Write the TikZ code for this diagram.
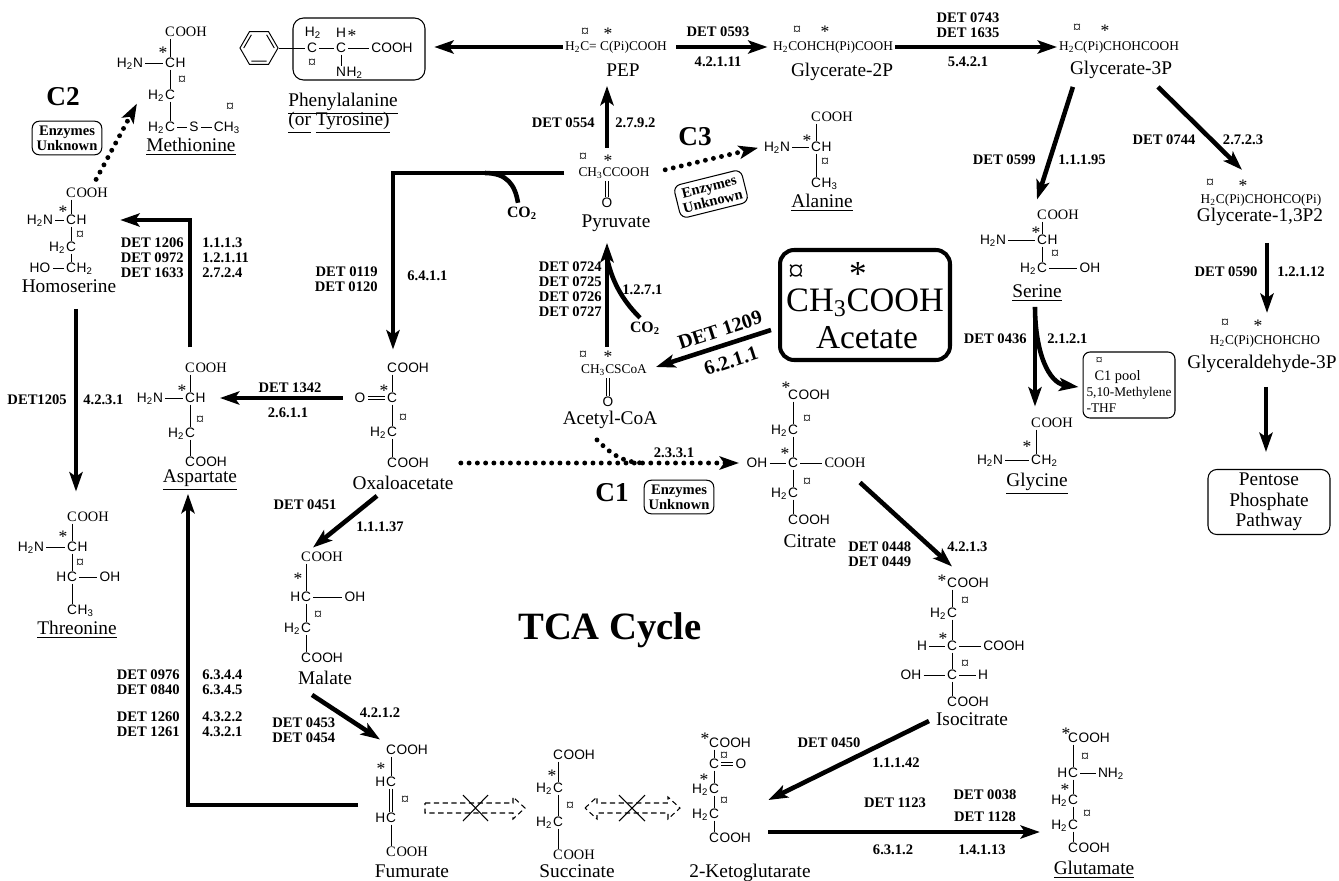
\documentclass[tikz,border=0pt]{standalone}
\usepackage{fontspec}
\setmainfont{Liberation Serif}
\setsansfont{Liberation Sans}
\usetikzlibrary{arrows.meta,positioning,shapes.geometric,calc}

\newcommand{\namefont}{\rmfamily\fontsize{11}{12}\selectfont}
\newcommand{\detfont}{\rmfamily\bfseries\fontsize{8.3}{8.6}\selectfont}
\newcommand{\chemfont}{\sffamily\fontsize{7.8}{9}\selectfont}
\newcommand{\chemrmfont}{\rmfamily\fontsize{8.2}{9}\selectfont}
\newcommand{\linefont}{\rmfamily\fontsize{7.6}{9}\selectfont}
\newcommand{\chsub}[1]{\textsubscript{#1}}

\begin{document}
\begin{tikzpicture}[x=0.02cm, y=-0.02cm,
    atom/.style={font=\chemfont, inner xsep=1.2pt, inner ysep=0.5pt, text height=5.6pt, text depth=0.4pt},
    atomrm/.style={atom, font=\chemrmfont},
    hyd/.style={font=\chemfont, inner sep=0pt, text height=5.6pt, text depth=0.4pt},
    hydrm/.style={hyd, font=\chemrmfont},
    currency/.style={font=\rmfamily\fontsize{9}{9}\selectfont, inner sep=0pt},
    asterisk/.style={font=\rmfamily\fontsize{10}{10}\selectfont, inner sep=0pt, yshift=-2pt},
    molname/.style={font=\namefont, inner sep=1pt, text height=7.6pt, text depth=2.4pt},
    formula/.style={font=\linefont, inner sep=1pt, text height=5.3pt, text depth=1.6pt},
    detlabel/.style={font=\detfont, inner sep=0pt},
    bigc/.style={font=\rmfamily\bfseries\fontsize{15.5}{16}\selectfont},
    enzbox/.style={draw, rounded corners=4pt, align=center, font=\detfont, inner sep=2.5pt, line width=0.6pt},
    big arrow/.style={line width=2.6pt, -{Stealth[length=11pt, width=7.5pt, inset=2.5pt]}},
    dot arrow/.style={line width=2.8pt, line cap=round, dash pattern=on 0pt off 4.7pt, -{Stealth[length=11pt, width=7.5pt, inset=2.5pt]}},
    bond/.style={line width=0.55pt},
    dbl/.style={double, double distance=1.4pt, line width=0.5pt}]
\tikzstyle{every node}=[inner sep=1pt]

\useasboundingbox (0,0) rectangle (1339,880);
\fill[white] (0,0) rectangle (1339,880);

% Methionine
\node[atomrm] (m1) at (170,32) {C};
\node[hydrm, right=-1.2pt of m1] (m1o) {OOH};
\node[asterisk] (m1s) at (163,49) {*};
\node[atom] (m2) at (170,63) {C};
\node[hyd, right=-1.2pt of m2] (m2h) {H};
\node[atom] (m2n) at (130,63) {H\chsub{2}N};
\node[currency] (m2t) at (182,80) {¤};
\node[atom] (m3) at (170,95) {C};
\node[hyd, left=-1.2pt of m3] (m3h) {H\chsub{2}};
\node[atom] (m4) at (170,127) {C};
\node[hyd, left=-1.2pt of m4] (m4h) {H\chsub{2}};
\node[atom] (m4s) at (194,127) {S};
\node[atom] (m4c) at (227,127) {CH\chsub{3}};
\node[currency] (m4t) at (230,107) {¤};
\node[molname] (metn) at (191,147) {\underline{Methionine}};
\draw[bond] (m1) -- (m2) (m2n) -- (m2) -- (m3) -- (m4) -- (m4s) -- (m4c);

% Homoserine
\node[atomrm] (h1) at (71,193) {C};
\node[hydrm, right=-1.2pt of h1] (h1o) {OOH};
\node[asterisk] (h1s) at (63,208) {*};
\node[atom] (h2) at (71,220) {C};
\node[hyd, right=-1.2pt of h2] (h2h) {H};
\node[atom] (h2n) at (40,220) {H\chsub{2}N};
\node[currency] (h2t) at (80,235) {¤};
\node[atom] (h3) at (71,247) {C};
\node[hyd, left=-1.2pt of h3] (h3h) {H\chsub{2}};
\node[atom] (h4) at (71,268) {C};
\node[hyd, right=-1.2pt of h4] (h4h) {H\chsub{2}};
\node[atom] (h4o) at (40,268) {HO};
\node[molname] (homn) at (69,288) {Homoserine};
\draw[bond] (h1) -- (h2) (h2n) -- (h2) -- (h3) -- (h4) -- (h4o);

% Threonine
\node[atomrm] (th1) at (72,517) {C};
\node[hydrm, right=-1.2pt of th1] (th1o) {OOH};
\node[asterisk] (th1s) at (63,533) {*};
\node[atom] (th2) at (72,547) {C};
\node[hyd, right=-1.2pt of th2] (th2h) {H};
\node[atom] (th2n) at (31,547) {H\chsub{2}N};
\node[currency] (th2t) at (80,563) {¤};
\node[atom] (th3) at (72,577) {C};
\node[hyd, left=-1.2pt of th3] (th3h) {H};
\node[atom] (th3o) at (110,577) {OH};
\node[atom] (th4) at (72,610) {C};
\node[hyd, right=-1.2pt of th4] (th4h) {H\chsub{3}};
\node[molname] (thrn) at (77,630) {\underline{Threonine}};
\draw[bond] (th1) -- (th2) (th2n) -- (th2) -- (th3) -- (th4) (th3) -- (th3o);

% Aspartate
\node[atomrm] (as1) at (190,368) {C};
\node[hydrm, right=-1.2pt of as1] (as1o) {OOH};
\node[asterisk] (as1s) at (182,387) {*};
\node[atom] (as2) at (190,398) {C};
\node[hyd, right=-1.2pt of as2] (as2h) {H};
\node[atom] (as2n) at (150,398) {H\chsub{2}N};
\node[currency] (as2t) at (200,420) {¤};
\node[atom] (as3) at (190,433) {C};
\node[hyd, left=-1.2pt of as3] (as3h) {H\chsub{2}};
\node[atom] (as4) at (190,462) {C};
\node[hyd, right=-1.2pt of as4] (as4o) {OOH};
\node[molname] (aspn) at (200,478) {\underline{Aspartate}};
\draw[bond] (as1) -- (as2) (as2n) -- (as2) -- (as3) -- (as4);

% Oxaloacetate
\node[atom] (ox1) at (392,368) {C};
\node[hyd, right=-1.2pt of ox1] (ox1o) {OOH};
\node[asterisk] (ox1s) at (384,387) {*};
\node[atom] (ox2) at (392,398) {C};
\node[atom] (ox2o) at (360,398) {O};
\node[currency] (ox2t) at (403,418) {¤};
\node[atom] (ox3) at (392,432) {C};
\node[hyd, left=-1.2pt of ox3] (ox3h) {H\chsub{2}};
\node[atom] (ox4) at (392,463) {C};
\node[hyd, right=-1.2pt of ox4] (ox4o) {OOH};
\node[molname] (oxn) at (403,485) {Oxaloacetate};
\draw[bond] (ox1) -- (ox2) -- (ox3) -- (ox4);
\draw[dbl] (ox2o) -- (ox2);

% Malate
\node[atomrm] (ma1) at (306,557) {C};
\node[hydrm, right=-1.2pt of ma1] (ma1o) {OOH};
\node[asterisk] (ma1s) at (298,575) {*};
\node[atom] (ma2) at (306,597) {C};
\node[hyd, left=-1.2pt of ma2] (ma2h) {H};
\node[atom] (ma2o) at (355,597) {OH};
\node[currency] (ma2t) at (318,615) {¤};
\node[atom] (ma3) at (306,628) {C};
\node[hyd, left=-1.2pt of ma3] (ma3h) {H\chsub{2}};
\node[atom] (ma4) at (306,658) {C};
\node[hyd, right=-1.2pt of ma4] (ma4o) {OOH};
\node[molname] (maln) at (325,680) {Malate};
\draw[bond] (ma1) -- (ma2) -- (ma3) -- (ma4) (ma2) -- (ma2o);

% Fumurate
\node[atom] (fu1) at (391,750) {C};
\node[hyd, right=-1.2pt of fu1] (fu1o) {OOH};
\node[asterisk] (fu1s) at (381,765) {*};
\node[atom] (fu2) at (391,782) {C};
\node[hyd, left=-1.2pt of fu2] (fu2h) {H};
\node[currency] (fu2t) at (405,800) {¤};
\node[atom] (fu3) at (391,818) {C};
\node[hyd, left=-1.2pt of fu3] (fu3h) {H};
\node[atomrm] (fu4) at (391,852) {C};
\node[hydrm, right=-1.2pt of fu4] (fu4o) {OOH};
\node[molname] (fumn) at (412,873) {Fumurate};
\draw[bond] (fu1) -- (fu2) (fu3) -- (fu4);
\draw[dbl] (fu2) -- (fu3);

% Succinate
\node[atom] (su1) at (558,755) {C};
\node[hyd, right=-1.2pt of su1] (su1o) {OOH};
\node[asterisk] (su1s) at (552,772) {*};
\node[atom] (su2) at (558,788) {C};
\node[hyd, left=-1.2pt of su2] (su2h) {H\chsub{2}};
\node[currency] (su2t) at (570,806) {¤};
\node[atom] (su3) at (558,822) {C};
\node[hyd, left=-1.2pt of su3] (su3h) {H\chsub{2}};
\node[atomrm] (su4) at (558,855) {C};
\node[hydrm, right=-1.2pt of su4] (su4o) {OOH};
\node[molname] (sucn) at (577,873) {Succinate};
\draw[bond] (su1) -- (su2) -- (su3) -- (su4);

% 2-Ketoglutarate
\node[atom] (kg1) at (714,743) {C};
\node[hyd, right=-1.2pt of kg1] (kg1o) {OOH};
\node[asterisk] (kg1s) at (705,735) {*};
\node[currency] (kg1t) at (724,756) {¤};
\node[atom] (kg2) at (714,764) {C};
\node[atom] (kg2o) at (741,764) {O};
\node[asterisk] (kg2s) at (704,776) {*};
\node[atom] (kg3) at (714,789) {C};
\node[hyd, left=-1.2pt of kg3] (kg3h) {H\chsub{2}};
\node[currency] (kg3t) at (724,801) {¤};
\node[atom] (kg4) at (714,814) {C};
\node[hyd, left=-1.2pt of kg4] (kg4h) {H\chsub{2}};
\node[atom] (kg5) at (714,838) {C};
\node[hyd, right=-1.2pt of kg5] (kg5o) {OOH};
\node[molname] (kgn) at (750,873) {2-Ketoglutarate};
\draw[bond] (kg1) -- (kg2) -- (kg3) -- (kg4) -- (kg5);
\draw[dbl] (kg2) -- (kg2o);

% Glutamate
\node[atom] (gu1) at (1073,738) {C};
\node[hyd, right=-1.2pt of gu1] (gu1o) {OOH};
\node[asterisk] (gu1s) at (1066,730) {*};
\node[currency] (gu1t) at (1085,757) {¤};
\node[atom] (gu2) at (1073,773) {C};
\node[hyd, left=-1.2pt of gu2] (gu2h) {H};
\node[atom] (gu2n) at (1111,773) {NH\chsub{2}};
\node[asterisk] (gu2s) at (1065,786) {*};
\node[atom] (gu3) at (1073,800) {C};
\node[hyd, left=-1.2pt of gu3] (gu3h) {H\chsub{2}};
\node[currency] (gu3t) at (1087,814) {¤};
\node[atom] (gu4) at (1073,825) {C};
\node[hyd, left=-1.2pt of gu4] (gu4h) {H\chsub{2}};
\node[atom] (gu5) at (1073,848) {C};
\node[hyd, right=-1.2pt of gu5] (gu5o) {OOH};
\node[molname] (glun) at (1094,870) {\underline{Glutamate}};
\draw[bond] (gu1) -- (gu2) -- (gu3) -- (gu4) -- (gu5) (gu2) -- (gu2n);

% Citrate
\node[atom] (ci1) at (793,395) {C};
\node[hyd, right=-1.2pt of ci1] (ci1o) {OOH};
\node[asterisk] (ci1s) at (786,384) {*};
\node[currency] (ci1t) at (807,419) {¤};
\node[atom] (ci2) at (793,430) {C};
\node[hyd, left=-1.2pt of ci2] (ci2h) {H\chsub{2}};
\node[asterisk] (ci2s) at (785,450) {*};
\node[atom] (ci3) at (793,463) {C};
\node[atom] (ci3o) at (757,463) {OH};
\node[atomrm] (ci3c) at (845,463) {COOH};
\node[currency] (ci3t) at (807,482) {¤};
\node[atom] (ci4) at (793,493) {C};
\node[hyd, left=-1.2pt of ci4] (ci4h) {H\chsub{2}};
\node[atom] (ci5) at (793,520) {C};
\node[hyd, right=-1.2pt of ci5] (ci5o) {OOH};
\node[molname] (citn) at (810,543) {Citrate};
\draw[bond] (ci1) -- (ci2) -- (ci3) -- (ci4) -- (ci5) (ci3o) -- (ci3) -- (ci3c);

% Isocitrate
\node[atom] (is1) at (952,583) {C};
\node[hyd, right=-1.2pt of is1] (is1o) {OOH};
\node[asterisk] (is1s) at (942,577) {*};
\node[currency] (is1t) at (965,601) {¤};
\node[atom] (is2) at (952,613) {C};
\node[hyd, left=-1.2pt of is2] (is2h) {H\chsub{2}};
\node[asterisk] (is2s) at (943,635) {*};
\node[atom] (is3) at (952,646) {C};
\node[atom] (is3h) at (922,646) {H};
\node[atom] (is3c) at (1004,646) {COOH};
\node[currency] (is3t) at (965,664) {¤};
\node[atom] (is4) at (952,675) {C};
\node[atom] (is4o) at (911,675) {OH};
\node[atom] (is4h) at (983,675) {H};
\node[atom] (is5) at (952,702) {C};
\node[hyd, right=-1.2pt of is5] (is5o) {OOH};
\node[molname] (isn) at (972,721) {Isocitrate};
\draw[bond] (is1) -- (is2) -- (is3) -- (is4) -- (is5) (is3h) -- (is3) -- (is3c) (is4o) -- (is4) -- (is4h);

% Serine
\node[atomrm] (se1) at (1042,215) {C};
\node[hydrm, right=-1.2pt of se1] (se1o) {OOH};
\node[asterisk] (se1s) at (1036,229) {*};
\node[atom] (se2) at (1042,240) {C};
\node[hyd, right=-1.2pt of se2] (se2h) {H};
\node[atom] (se2n) at (993,240) {H\chsub{2}N};
\node[currency] (se2t) at (1055,254) {¤};
\node[atom] (se3) at (1042,268) {C};
\node[hyd, left=-1.2pt of se3] (se3h) {H\chsub{2}};
\node[atom] (se3o) at (1090,268) {OH};
\node[molname] (sern) at (1037,293) {\underline{Serine}};
\draw[bond] (se1) -- (se2) (se2n) -- (se2) -- (se3) -- (se3o);

% Glycine
\node[atomrm] (gl1) at (1036,423) {C};
\node[hydrm, right=-1.2pt of gl1] (gl1o) {OOH};
\node[asterisk] (gl1s) at (1027,443) {*};
\node[atom] (gl2) at (1036,460) {C};
\node[hyd, right=-1.2pt of gl2] (gl2h) {H\chsub{2}};
\node[atom] (gl2n) at (990,460) {H\chsub{2}N};
\node[molname] (glyn) at (1037,482) {\underline{Glycine}};
\draw[bond] (gl1) -- (gl2) -- (gl2n);

% Alanine
\node[atomrm] (al1) at (816,117) {C};
\node[hydrm, right=-1.2pt of al1] (al1o) {OOH};
\node[asterisk] (al1s) at (807,137) {*};
\node[atom] (al2) at (816,147) {C};
\node[hyd, right=-1.2pt of al2] (al2h) {H};
\node[atom] (al2n) at (777,147) {H\chsub{2}N};
\node[currency] (al2t) at (825,162) {¤};
\node[atom] (al3) at (816,183) {C};
\node[hyd, right=-1.2pt of al3] (al3h) {H\chsub{3}};
\node[molname] (alan) at (822,203) {\underline{Alanine}};
\draw[bond] (al1) -- (al2) -- (al3) (al2n) -- (al2);

% Phenylalanine
\node[regular polygon, regular polygon sides=6, draw, line width=0.55pt, minimum size=0.76cm, inner sep=0pt] (ring) at (259,48) {};
\draw[bond] ($(ring.center)!0.78!(ring.corner 6)$) -- ($(ring.center)!0.78!(ring.corner 1)$)
            ($(ring.center)!0.78!(ring.corner 2)$) -- ($(ring.center)!0.78!(ring.corner 3)$)
            ($(ring.center)!0.78!(ring.corner 4)$) -- ($(ring.center)!0.78!(ring.corner 5)$);
\node[atom] (p1) at (312,48) {C};
\node[hyd] (p1h) at (313,32) {H\chsub{2}};
\node[currency] (p1t) at (312,63) {¤};
\node[atom] (p2) at (341,48) {C};
\node[hyd] (p2h) at (341,33) {H};
\node[asterisk] (p2s) at (352,32) {*};
\node[atom] (p2c) at (392,48) {COOH};
\node[atom] (p2n) at (341,72) {N};
\node[hyd, right=-1.2pt of p2n] (p2nh) {H\chsub{2}};
\draw[bond] (ring.east) -- (p1) -- (p2) -- (p2c) (p2) -- (p2n);
\node[draw, rounded corners=6pt, line width=0.6pt, minimum width=2.64cm, minimum height=1.24cm] (phebox) at (359,49) {};
\node[molname] (phen) at (343,102) {\underline{Phenylalanine}};
\node[molname] (tyrn) at (339,121) {\underline{(or} \underline{Tyrosine)}};

% glycolysis line
\node[formula] (pepf) at (616,47) {H\chsub{2}C= C(Pi)COOH};
\node[currency] (pept) at (585,32) {¤};
\node[asterisk] (peps) at (608,30) {*};
\node[molname] (pepn) at (623,72) {PEP};
\node[formula] (g2f) at (833,47) {H\chsub{2}COHCH(Pi)COOH};
\node[currency] (g2t) at (797,30) {¤};
\node[asterisk] (g2s) at (825,28) {*};
\node[molname] (g2n) at (842,72) {Glycerate-2P};
\node[formula] (g3f) at (1119,47) {H\chsub{2}C(Pi)CHOHCOOH};
\node[currency] (g3t) at (1077,28) {¤};
\node[asterisk] (g3s) at (1105,27) {*};
\node[molname] (g3n) at (1121,70) {Glycerate-3P};
\node[formula] (g13f) at (1261,200) {H\chsub{2}C(Pi)CHOHCO(Pi)};
\node[currency] (g13t) at (1210,183) {¤};
\node[asterisk] (g13s) at (1243,182) {*};
\node[molname] (g13n) at (1260,217) {Glycerate-1,3P2};
\node[formula] (gapf) at (1265,341) {H\chsub{2}C(Pi)CHOHCHO};
\node[currency] (gapt) at (1225,323) {¤};
\node[asterisk] (gaps) at (1258,322) {*};
\node[molname] (gapn) at (1262,364) {Glyceraldehyde-3P};
\node[draw, rounded corners=5pt, line width=0.6pt, align=center, font=\rmfamily\fontsize{11}{11.6}\selectfont, minimum width=2.44cm, minimum height=1.3cm] (ppp) at (1269,502) {Pentose\\Phosphate\\Pathway};

% pyruvate and acetyl-CoA
\node[formula] (pyf) at (614,173) {CH\chsub{3}CCOOH};
\node[currency] (pyt) at (583,157) {¤};
\node[asterisk] (pys) at (608,157) {*};
\node[atom] (pyo) at (607,203) {O};
\draw[dbl] (pyo) -- (pyo |- pyf.south);
\node[molname] (pyn) at (616,223) {Pyruvate};
\node[formula] (acf) at (614,370) {CH\chsub{3}CSCoA};
\node[currency] (act) at (583,355) {¤};
\node[asterisk] (acs) at (608,353) {*};
\node[atom] (aco) at (608,402) {O};
\draw[dbl] (aco) -- (aco |- acf.south);
\node[molname] (acn) at (610,420) {Acetyl-CoA};

% acetate
\node[draw, line width=2.3pt, rounded corners=8pt, minimum width=3.4cm, minimum height=2.2cm] (acbox) at (865,305) {};
\node[font=\rmfamily\fontsize{18}{18}\selectfont, inner sep=0pt] (acbt) at (796,273) {¤};
\node[font=\rmfamily\fontsize{20}{20}\selectfont, inner sep=0pt] (acbs) at (858,274) {*};
\node[font=\rmfamily\fontsize{19.5}{20}\selectfont, inner sep=0pt] (acbf) at (865,303) {CH\chsub{3}COOH};
\node[font=\rmfamily\fontsize{19}{20}\selectfont, inner sep=0pt] (acbn) at (867,338) {Acetate};

% C1 pool
\node[draw, rounded corners=4pt, line width=0.6pt, align=left, font=\rmfamily\fontsize{7.6}{9}\selectfont, minimum width=1.82cm, minimum height=1.32cm, inner sep=2pt] (c1box) at (1129,385) {\hspace*{0.7em}¤\\\hspace*{0.6em}{\fontsize{8.2}{9}\selectfont C1 pool}\\5,10-Methylene\\-THF};

% text labels
\node[bigc] (c2l) at (63,97) {C2};
\node[bigc] (c3l) at (695,137) {C3};
\node[bigc] (c1l) at (612,493) {C1};
\node[enzbox] (enz2) at (67,138) {Enzymes\\Unknown};
\node[enzbox, rotate=14] (enz3) at (711,194) {Enzymes\\Unknown};
\node[enzbox] (enz1) at (679,497) {Enzymes\\Unknown};
\node[font=\rmfamily\bfseries\fontsize{22}{22}\selectfont] (tca) at (610,630) {TCA Cycle};
\node[font=\rmfamily\bfseries\fontsize{9}{9}\selectfont] (co2a) at (522,213) {CO\chsub{2}};
\node[font=\rmfamily\bfseries\fontsize{9}{9}\selectfont] (co2b) at (645,328) {CO\chsub{2}};

% enzyme numbers
\node[detlabel, anchor=east] (d0554) at (595,123) {DET 0554};
\node[detlabel, anchor=west] (e2792) at (615,123) {2.7.9.2};
\node[detlabel] (d0593) at (718,32) {DET 0593};
\node[detlabel] (e42111) at (718,62) {4.2.1.11};
\node[detlabel, align=center] (d0743) at (968,25) {DET 0743\\DET 1635};
\node[detlabel] (e5421) at (968,62) {5.4.2.1};
\node[detlabel, anchor=east] (d0599) at (1036,160) {DET 0599};
\node[detlabel, anchor=west] (e11195) at (1058,160) {1.1.1.95};
\node[detlabel] (d0744) at (1164,140) {DET 0744};
\node[detlabel] (e2723) at (1243,140) {2.7.2.3};
\node[detlabel] (d0590) at (1226,272) {DET 0590};
\node[detlabel] (e12112) at (1301,272) {1.2.1.12};
\node[detlabel, anchor=east] (d0436) at (1027,339) {DET 0436};
\node[detlabel, anchor=west] (e2121) at (1047,339) {2.1.2.1};
\node[detlabel, anchor=east, align=right] (d1206) at (184,258) {DET 1206\\DET 0972\\DET 1633};
\node[detlabel, anchor=west, align=left] (e1113) at (202,258) {1.1.1.3\\1.2.1.11\\2.7.2.4};
\node[detlabel, anchor=east, align=right] (d0119) at (378,279) {DET 0119\\DET 0120};
\node[detlabel, anchor=west] (e6411) at (407,276) {6.4.1.1};
\node[detlabel, anchor=east, align=right] (d0724) at (602,289) {DET 0724\\DET 0725\\DET 0726\\DET 0727};
\node[detlabel, anchor=west] (e1271) at (622,290) {1.2.7.1};
\node[detlabel] (d1342) at (290,388) {DET 1342};
\node[detlabel] (e2611) at (288,413) {2.6.1.1};
\node[detlabel, anchor=east] (d1205) at (67,400) {DET1205};
\node[detlabel, anchor=west] (e4231) at (83,400) {4.2.3.1};
\node[detlabel] (d0451) at (305,505) {DET 0451};
\node[detlabel] (e11137) at (380,527) {1.1.1.37};
\node[detlabel, anchor=east, align=right] (d0976) at (180,682) {DET 0976\\DET 0840};
\node[detlabel, anchor=east, align=right] (d1260) at (180,724) {DET 1260\\DET 1261};
\node[detlabel, anchor=west, align=left] (e6344) at (202,682) {6.3.4.4\\6.3.4.5};
\node[detlabel, anchor=west, align=left] (e4322) at (202,724) {4.3.2.2\\4.3.2.1};
\node[detlabel, anchor=west, align=left] (d0453) at (272,730) {DET 0453\\DET 0454};
\node[detlabel] (e4212) at (380,713) {4.2.1.2};
\node[detlabel] (e2331) at (674,453) {2.3.3.1};
\node[detlabel, anchor=west, align=left] (d0448) at (848,554) {DET 0448\\DET 0449};
\node[detlabel, anchor=west] (e4213) at (947,547) {4.2.1.3};
\node[detlabel] (d0450) at (829,743) {DET 0450};
\node[detlabel] (e11142) at (896,763) {1.1.1.42};
\node[detlabel] (d1123) at (895,803) {DET 1123};
\node[detlabel] (e6312) at (893,850) {6.3.1.2};
\node[detlabel] (d0038) at (985,795) {DET 0038};
\node[detlabel] (d1128) at (985,817) {DET 1128};
\node[detlabel] (e14113) at (982,850) {1.4.1.13};
\node[font=\rmfamily\bfseries\fontsize{11.5}{12}\selectfont, rotate=18] (d1209) at (720,330) {DET 1209};
\node[font=\rmfamily\bfseries\fontsize{11.5}{12}\selectfont, rotate=18] (e6211) at (731,361) {6.2.1.1};

% reactions
\draw[big arrow, shorten >=5pt] (pepf.west) -- (pepf.west -| phebox.east);
\draw[big arrow, shorten <=4pt, shorten >=2pt] (pepf) -- (g2f);
\draw[big arrow] (g2f) -- (g3f);
\draw[big arrow] ([shift={(5,6)}]g3n.south west) -- ([shift={(-5,-9)}]se1.north);
\draw[big arrow] ([shift={(37,6)}]g3n.south) -- ([shift={(-19,-22)}]g13f.north);
\draw[big arrow] ([shift={(7,15)}]g13n.south) -- ([shift={(2,-20)}]gapf.north);
\draw[big arrow] ([shift={(4,12)}]gapn.south) -- ([shift={(-3,-17)}]ppp.north);
\draw[big arrow] ([shift={(-2,3)}]sern.south) -- ([shift={(-1,-10)}]gl1.north);
\draw[big arrow] ([shift={(-2,3)}]sern.south) .. controls +(0,45) and +(-30,-4) .. ([shift={(-4,2)}]c1box.west);
\draw[big arrow] ([shift={(-7,-17)}]pyf.north) -- ([shift={(-16,3)}]pepn.south);
\draw[big arrow] ([shift={(-12,0)}]pyf.west) -| ([shift={(1,-12)}]ox1.north);
\coordinate (pybr) at (485,173);
\draw[line width=2.6pt] (pybr) .. controls +(22,0) and +(-3,-18) .. ([shift={(-4,-2)}]co2a.north);
\draw[big arrow] ([shift={(-7,-15)}]acf.north) -- ([shift={(-9,9)}]pyn.south);
\coordinate (acbr) at (607,258);
\draw[line width=2.6pt] (acbr) .. controls +(6,28) and +(-14,-14) .. ([shift={(-5,-2)}]co2b.north);
\draw[big arrow] ([shift={(-7,25)}]acbox.west) -- ([shift={(7,-3)}]acf.east);
\draw[big arrow, shorten <=5.5pt, shorten >=8pt] (ox2o) -- (as2h);
\draw[big arrow, shorten <=8pt, shorten >=19pt] (as1.north) |- (h2h.east);
\draw[big arrow] ([shift={(7,10)}]homn.south) -- ([shift={(4,-19)}]th1.north);
\draw[big arrow] ([shift={(-17,-13)}]fu3h.west) -| ([shift={(-12,5)}]aspn.south);
\draw[big arrow] ([shift={(-26,0)}]oxn.south) -- ([shift={(7,-3)}]ma1.north);
\draw[big arrow] ([shift={(-13,4)}]maln.south) -- ([shift={(-11,-4)}]fu1.north);
\draw[big arrow] ([shift={(-5,0)}]isn.west) -- ([shift={(47,11)}]kg3.east);
\draw[big arrow] ([shift={(47,-6)}]kg5.east) -- ([shift={(-11,7)}]gu4h.west);
\draw[big arrow] ([shift={(15,13)}]ci3c.south) -- ([shift={(0,-10)}]is1.north);

% unknown enzymes
\draw[dot arrow, shorten <=18pt, shorten >=3pt] (ox4o) -- (ci3o);
\coordinate (cjoin) at (645,463);
\draw[line width=2.8pt, line cap=round, dash pattern=on 0pt off 4.7pt] ([shift={(-13,9)}]acn.south) .. controls +(14,14) and +(-22,0) .. (cjoin);
\draw[dot arrow] ([shift={(4,-8)}]h1o.north) -- ([shift={(-11,3)}]m3h.south west);
\draw[dot arrow, shorten <=8pt, shorten >=2pt] (pyf.east) -- (al2n.west);

% blocked steps
\draw[densely dashed, line width=0.6pt] (425,803) -- (513,803) -- (513,797) -- (525,808) -- (513,819) -- (513,813) -- (425,813) -- cycle;
\draw[line width=0.6pt] (463,795) -- (488,821) (463,821) -- (488,795);
\draw[densely dashed, line width=0.6pt] (585,808) -- (597,797) -- (597,803) -- (668,803) -- (668,797) -- (680,808) -- (668,819) -- (668,813) -- (597,813) -- (597,819) -- cycle;
\draw[line width=0.6pt] (619,795) -- (645,821) (619,821) -- (645,795);
\end{tikzpicture}
\end{document}
